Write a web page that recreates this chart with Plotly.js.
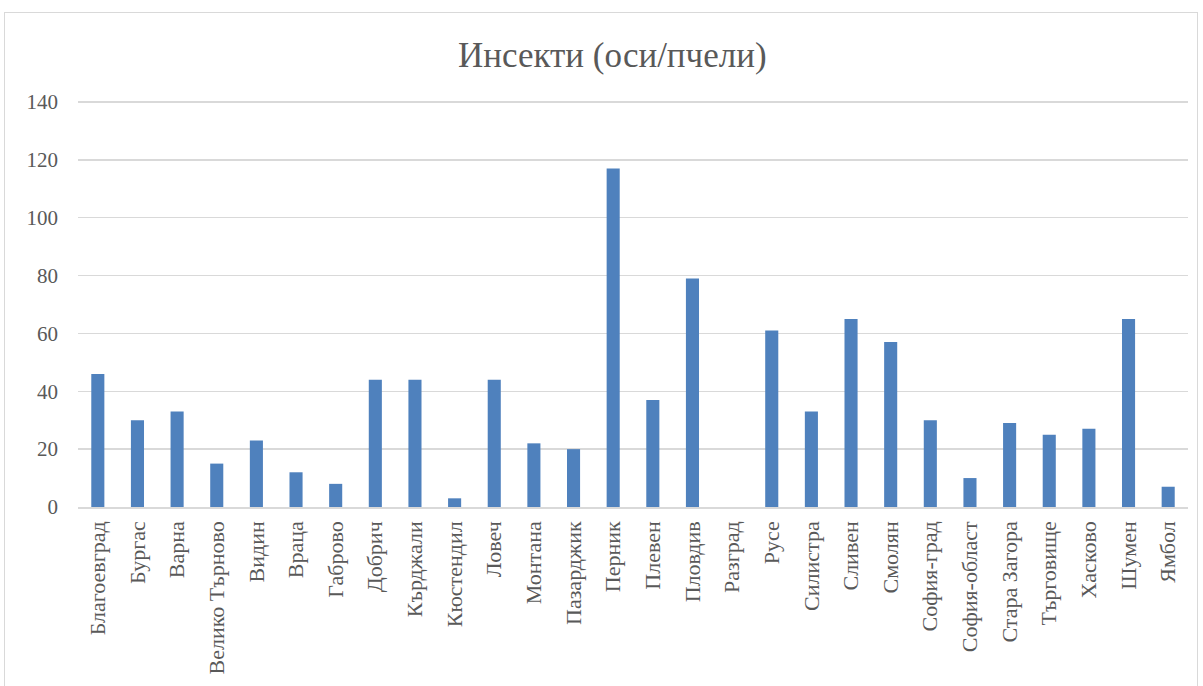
<!DOCTYPE html>
<html><head><meta charset="utf-8">
<script src="https://cdn.plot.ly/plotly-3.0.1.min.js"></script>
<style>
html,body{margin:0;padding:0;background:#fff;}
#frame{position:absolute;left:4px;top:12px;width:1194px;height:690px;border:1px solid #d9d9d9;box-sizing:border-box;pointer-events:none;z-index:5;}
#chart{position:absolute;left:0;top:0;width:1203px;height:686px;}
</style>
</head><body>
<div id="chart"></div><div id="frame"></div>
<script>
const categories = ["Благоевград","Бургас","Варна","Велико Търново","Видин","Враца","Габрово","Добрич","Кърджали","Кюстендил","Ловеч","Монтана","Пазарджик","Перник","Плевен","Пловдив","Разград","Русе","Силистра","Сливен","Смолян","София-град","София-област","Стара Загора","Търговище","Хасково","Шумен","Ямбол"];
const values = [46,30,33,15,23,12,8,44,44,3,44,22,20,117,37,79,0,61,33,65,57,30,10,29,25,27,65,7];
const yTicks = [0,20,40,60,80,100,120,140];

const font = "Liberation Serif";
Plotly.newPlot('chart', [{
  type:'bar', x:categories, y:values,
  marker:{color:'#4f81bd'}, hoverinfo:'x+y'
}], {
  width:1203, height:686,
  margin:{l:78, r:15, t:99.2, b:178.5},
  paper_bgcolor:'#fff', plot_bgcolor:'#fff',
  bargap:0.67,
  title:{text:'Инсекти (оси/пчели)', x:0.509, xanchor:'center', y:0.92, yanchor:'middle', yref:'container',
         font:{family:font, size:35, color:'#595959'}},
  xaxis:{type:'category', tickangle:-90, tickfont:{family:font, size:22, color:'#595959'}, ticklabelstandoff:4,
         showline:true, linecolor:'#d9d9d9', linewidth:1.5, ticks:'', showgrid:false, automargin:false},
  yaxis:{range:[0,141], tickvals:yTicks, ticktext:yTicks.map(String), showgrid:true, gridcolor:'#d9d9d9', gridwidth:1.5,
         zeroline:false, showline:false, ticks:'', ticklen:0, ticklabelstandoff:19,
         tickfont:{family:font, size:21, color:'#595959'}, automargin:false},
  showlegend:false
}, {displayModeBar:false, staticPlot:true});
</script>
</body></html>
